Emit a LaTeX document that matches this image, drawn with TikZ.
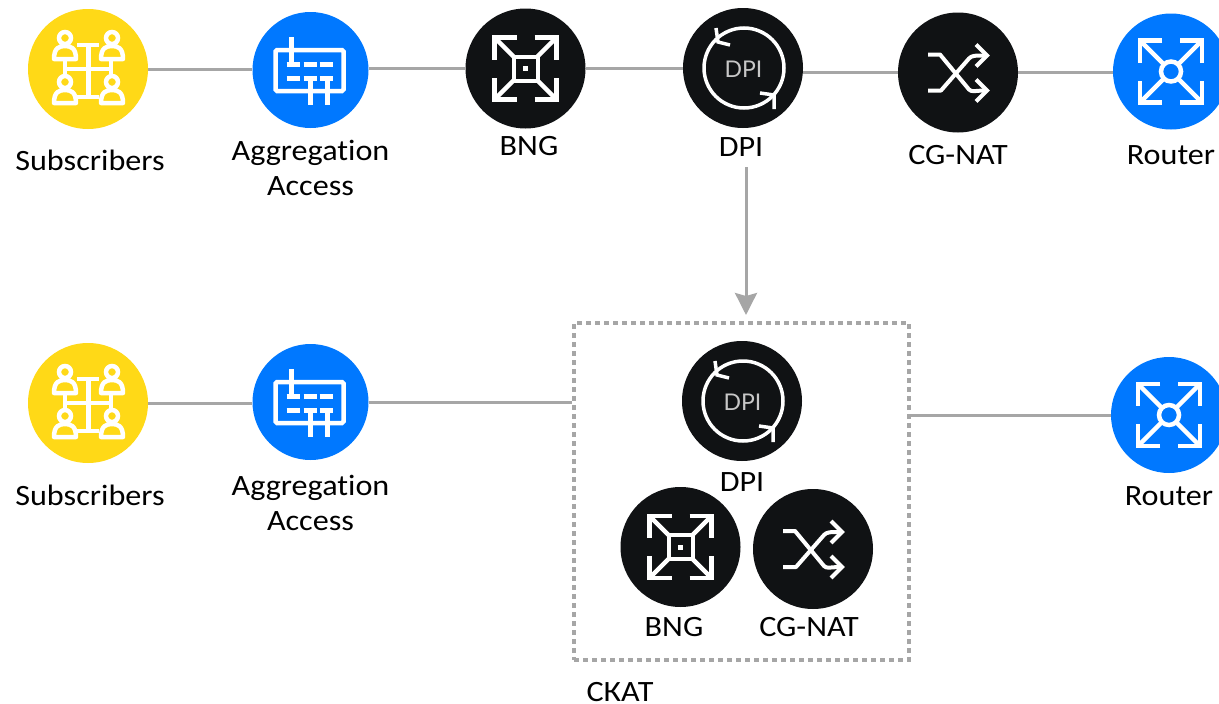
\documentclass[tikz,border=0pt]{standalone}
\usepackage{fontspec}
\setmainfont{Carlito}[Ligatures=NoCommon,FakeStretch=1.09]
\newfontfamily\dpifont{Lato}
\usetikzlibrary{arrows.meta}
\definecolor{yel}{HTML}{FFD917}
\definecolor{blu}{HTML}{0078FF}
\definecolor{blk}{HTML}{101214}
\definecolor{gry}{HTML}{A6A6A6}
\tikzset{
  x=1pt,y=-1pt,
  disc/.style={circle,inner sep=0pt,minimum size=#1},
  yeldisc/.style={disc=120pt,fill=yel},
  bludisc/.style={disc=116pt,fill=blu},
  blkdisc/.style={disc=120pt,fill=blk},
  lab/.style={font=\fontsize{29.5}{35}\selectfont,text=black,inner sep=0pt},
  labtwo/.style={lab,align=center},
  conn/.style={draw=gry,line width=3pt},
  ico/.style={draw=white,line width=4.5pt,line cap=butt,line join=miter},
  person/.pic={
    \draw[ico] (0,-9) circle (6);
    \draw[ico,line join=round] (-11,12) .. controls (-11,1) and (-6,-1) .. (0,-1) .. controls (6,-1) and (11,1) .. (11,12) -- cycle;
  },
  subsicon/.pic={
    \draw[ico] (-11,-24) -- (11,-24) (-23,-10) -- (-23,6) (23,-10) -- (23,6) (-11,28) -- (11,28) (-23,0) -- (23,0);
    \draw[ico,line width=5pt] (0,-24) -- (0,28);
    \pic at (-23,-22) {person};
    \pic at (24,-22) {person};
    \pic at (-23,22) {person};
    \pic at (24,22) {person};
  },
  aggicon/.pic={
    \draw[ico,rounded corners=1.5pt] (-35,-20) rectangle (33,21);
    \draw[ico] (-19,-33) -- (-19,-6) (0,8) -- (0,35) (17,8) -- (17,35);
    \draw[ico,line width=5pt] (-24,-6) -- (-11,-6) (-7,-6) -- (6,-6) (9,-6) -- (22,-6)
      (-24,8) -- (-11,8) (-7,8) -- (6,8) (9,8) -- (22,8);
  },
  corners/.pic={
    \foreach \sx/\sy in {1/1,1/-1,-1/1,-1/-1}{
      \draw[ico] (\sx*9,\sy*31) -- (\sx*31,\sy*31) -- (\sx*31,\sy*9);
      \draw[ico] (\sx*#1,\sy*#1) -- (\sx*30,\sy*30);
    }
  },
  bngicon/.pic={
    \pic {corners=12};
    \draw[ico,line width=4pt] (-12,-12) rectangle (12,12);
    \fill[white] (-2.5,-2.5) rectangle (2.5,2.5);
  },
  routericon/.pic={
    \pic {corners=8};
    \draw[ico] (0,0) circle (10);
  },
  naticon/.pic={
    \draw[ico,line width=4pt,line join=round] (-30,-18) -- (-18,-18) -- (11,17) .. controls (14,20) and (16,18) .. (29,18);
    \draw[ico,line width=4pt,line join=round] (-30,18) -- (-17,18) -- (11,-14) .. controls (14,-17) and (16,-17) .. (29,-17);
    \draw[ico,line width=4pt] (18,-28) -- (29,-17) -- (18,-6) (18,7) -- (29,18) -- (18,29);
  },
  dpiicon/.pic={
    \draw[ico,line width=3.5pt] (1,0) circle (40);
    \draw[ico,line width=3.5pt] (-27,-40) -- (-25,-26) -- (-13,-23) (17,25) -- (31,27) -- (31,41);
    \node[font=\fontsize{23}{23}\selectfont\dpifont,text=white!78!black,inner sep=0pt] (dpitext) at (0.5,1) {DPI};
  },
}
\begin{document}
\begin{tikzpicture}
\useasboundingbox (0,0) rectangle (1219,704);
% top row
\node[yeldisc] (sub1) at (88,69) {};
\node[bludisc] (agg1) at (310.5,70) {};
\node[blkdisc] (bng1) at (525.5,68.5) {};
\node[blkdisc] (dpi1) at (743,68) {};
\node[blkdisc] (nat1) at (958,72.5) {};
\node[bludisc] (rt1) at (1171,71.5) {};
% bottom row
\node[yeldisc] (sub2) at (88,403) {};
\node[bludisc] (agg2) at (310.5,402) {};
\node[blkdisc] (dpi2) at (742,401) {};
\node[blkdisc] (bng2) at (680.5,547) {};
\node[blkdisc] (nat2) at (813,549) {};
\node[bludisc] (rt2) at (1169,415) {};
\node[draw=gry,line width=3.5pt,dash pattern=on 5pt off 4pt,minimum width=335pt,minimum height=337pt,inner sep=0pt] (skat) at (741.5,491.5) {};
% icons
\pic at (sub1) {subsicon};
\pic at (sub2) {subsicon};
\pic at (agg1) {aggicon};
\pic at (agg2) {aggicon};
\pic at (bng1) {bngicon};
\pic at (bng2) {bngicon};
\pic at (dpi1) {dpiicon};
\pic at (dpi2) {dpiicon};
\pic at (nat1) {naticon};
\pic at (nat2) {naticon};
\pic at (rt1) {routericon};
\pic at (rt2) {routericon};
% connectors
\draw[conn] (sub1.east) -- (sub1.east -| agg1.west);
\draw[conn] (bng1.west -| agg1.east) -- (bng1.west);
\draw[conn] (bng1.east) -- (bng1.east -| dpi1.west);
\draw[conn] (nat1.west -| dpi1.east) -- (nat1.west);
\draw[conn] (nat1.east) -- (nat1.east -| rt1.west);
\draw[conn] (sub2.east) -- (sub2.east -| agg2.west);
\draw[conn] (agg2.east) -- (agg2 -| skat.west);
\draw[conn] (rt2 -| skat.east) -- (rt2.west);
\coordinate (arrowfrom) at (746,167);
\coordinate (arrowto) at (746,315);
\draw[conn,-{Stealth[length=22pt,width=22pt,inset=3pt]}] (arrowfrom) -- (arrowto);
% labels
\node[lab] (l1) at (90,160) {Subscribers};
\node[labtwo] (l2) at (310.5,168) {Aggregation\\Access};
\node[lab] (l3) at (529,146) {BNG};
\node[lab] (l4) at (741,147) {DPI};
\node[lab] (l5) at (958,155) {CG-NAT};
\node[lab] (l6) at (1171,155) {Router};
\node[lab] (l7) at (90,495) {Subscribers};
\node[labtwo] (l8) at (310.5,503) {Aggregation\\Access};
\node[lab] (l9) at (742,482) {DPI};
\node[lab] (l10) at (674,627) {BNG};
\node[lab] (l11) at (809,627) {CG-NAT};
\node[lab] (l12) at (1169,496) {Router};
\node[lab] (l13) at (620,692) {СКАТ};
\end{tikzpicture}
\end{document}
